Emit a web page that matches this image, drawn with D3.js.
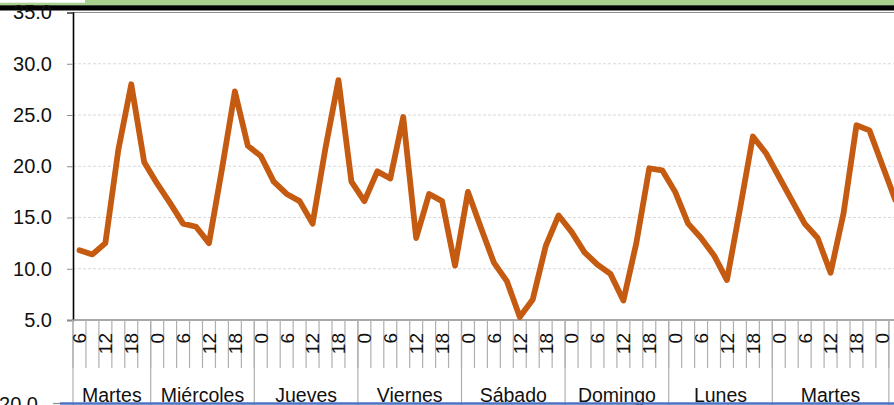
<!DOCTYPE html>
<html>
<head>
<meta charset="utf-8">
<script src="https://cdn.jsdelivr.net/npm/d3@7"></script>
<style>
  body { margin: 0; background: #fff; }
  svg { display: block; font-family: "Liberation Sans", Arial, sans-serif; }
</style>
</head>
<body>
<div id="chart"></div>
<script>
// horas de cada categoría (cada 3 h); la última queda fuera del recorte
const hours = [6, 9, 12, 15, 18, 21,
  0, 3, 6, 9, 12, 15, 18, 21,
  0, 3, 6, 9, 12, 15, 18, 21,
  0, 3, 6, 9, 12, 15, 18, 21,
  0, 3, 6, 9, 12, 15, 18, 21,
  0, 3, 6, 9, 12, 15, 18, 21,
  0, 3, 6, 9, 12, 15, 18, 21,
  0, 3, 6, 9, 12, 15, 18, 21, 0,
  3];
// días y cuántas categorías abarca cada uno
const days = ["Martes", "Miércoles", "Jueves", "Viernes", "Sábado", "Domingo", "Lunes", "Martes"];
const dayCounts = [6, 8, 8, 8, 8, 8, 8, 9];
// valores de la serie
const values = [11.8, 11.4, 12.5, 21.6, 28.0, 20.4,
  18.3, 16.4, 14.4, 14.1, 12.5, 19.7, 27.3, 22.0,
  21.0, 18.5, 17.3, 16.6, 14.4, 21.8, 28.4, 18.5,
  16.6, 19.5, 18.8, 24.8, 13.0, 17.3, 16.6, 10.3,
  17.5, 14.0, 10.6, 8.8, 5.3, 7.0, 12.2, 15.2,
  13.6, 11.6, 10.4, 9.5, 6.9, 12.5, 19.8, 19.6,
  17.5, 14.4, 13.0, 11.3, 8.9, 15.8, 22.9, 21.3,
  19.0, 16.7, 14.4, 13.0, 9.6, 15.4, 24.0, 23.5, 20.1,
  16.7];
const yTicks = [5, 10, 15, 20, 25, 30, 35];

const W = 894, H = 405;
const plotLeft = 73, plotTop = 12.5, plotBottom = 320;
const step = 12.95;

const svg = d3.select("#chart").append("svg")
  .attr("width", W).attr("height", H);

// banda superior (restos del gráfico de arriba)
svg.append("rect").attr("x", 0).attr("y", 0).attr("width", W).attr("height", 5.5).attr("fill", "#a9d18e");
svg.append("rect").attr("x", 0).attr("y", 0).attr("width", 85).attr("height", 2.7).attr("fill", "#fff");
svg.append("rect").attr("x", 0).attr("y", 5.3).attr("width", W).attr("height", 5.2).attr("fill", "#000");

const x = d3.scaleBand()
  .domain(d3.range(hours.length))
  .range([plotLeft, plotLeft + hours.length * step])
  .padding(0);

const y = d3.scaleLinear().domain([5, 35]).range([plotBottom, plotTop]);

// rejilla
svg.append("g")
  .selectAll("line")
  .data(yTicks.filter(d => d > 5 && d < 35))
  .enter().append("line")
  .attr("x1", plotLeft).attr("x2", W)
  .attr("y1", d => y(d)).attr("y2", d => y(d))
  .attr("stroke", "#d9d9d9").attr("stroke-width", 1)
  .attr("stroke-dasharray", "3,2");

svg.append("line")
  .attr("x1", plotLeft).attr("x2", W)
  .attr("y1", y(35)).attr("y2", y(35))
  .attr("stroke", "#8c8c8c").attr("stroke-width", 1.2);

// eje Y
const yAxis = svg.append("g")
  .attr("transform", `translate(${plotLeft},0)`)
  .call(d3.axisLeft(y).tickValues(yTicks).tickFormat(d3.format(".1f")).tickSize(6).tickPadding(15));
yAxis.select(".domain").attr("stroke", "#000").attr("stroke-width", 1.6);
yAxis.selectAll(".tick line").attr("stroke", "#8c8c8c");
yAxis.selectAll("text").attr("font-size", 20).attr("fill", "#111");

// eje X: línea base y separadores
svg.append("line")
  .attr("x1", plotLeft).attr("x2", W)
  .attr("y1", plotBottom).attr("y2", plotBottom)
  .attr("stroke", "#8c8c8c").attr("stroke-width", 1.4);

svg.append("g")
  .selectAll("line")
  .data(d3.range(hours.length + 1))
  .enter().append("line")
  .attr("x1", i => plotLeft + i * x.bandwidth()).attr("x2", i => plotLeft + i * x.bandwidth())
  .attr("y1", plotBottom).attr("y2", 368)
  .attr("stroke", "#b0b0b0").attr("stroke-width", 1.2);

// grupos de días
let acc = 0;
const groups = days.map((d, k) => {
  const g = { name: d, start: acc, end: acc + dayCounts[k] };
  acc += dayCounts[k];
  return g;
});

svg.append("g")
  .selectAll("line")
  .data(groups.map(g => g.start).concat([acc]))
  .enter().append("line")
  .attr("x1", i => plotLeft + i * x.bandwidth()).attr("x2", i => plotLeft + i * x.bandwidth())
  .attr("y1", plotBottom).attr("y2", H)
  .attr("stroke", "#b0b0b0").attr("stroke-width", 1.2);

svg.append("g")
  .selectAll("text")
  .data(groups)
  .enter().append("text")
  .attr("x", g => plotLeft + (g.start + g.end) / 2 * x.bandwidth())
  .attr("y", 401.5)
  .attr("text-anchor", "middle")
  .attr("font-size", 19.5)
  .attr("fill", "#111")
  .text(g => g.name);

// etiquetas de hora (una de cada dos)
const xAxis = svg.append("g")
  .attr("transform", `translate(0,${plotBottom})`)
  .call(d3.axisBottom(x)
    .tickValues(d3.range(0, hours.length, 2))
    .tickFormat(i => hours[i])
    .tickSize(0));
xAxis.select(".domain").remove();
xAxis.selectAll("text")
  .attr("transform", "rotate(-90)")
  .attr("x", -13).attr("y", 0).attr("dy", "0.36em")
  .style("text-anchor", "end")
  .attr("font-size", 19)
  .attr("fill", "#111");

// serie
const line = d3.line()
  .x((d, i) => x(i) + x.bandwidth() / 2)
  .y(d => y(d));

svg.append("path")
  .datum(values)
  .attr("fill", "none")
  .attr("stroke", "#c55a11")
  .attr("stroke-width", 5.8)
  .attr("stroke-linejoin", "round")
  .attr("stroke-linecap", "round")
  .attr("d", line);

// borde del gráfico de abajo
svg.append("text")
  .attr("x", 38).attr("y", 411)
  .attr("text-anchor", "end")
  .attr("font-size", 20).attr("fill", "#111")
  .text("20.0");
svg.append("line")
  .attr("x1", 53).attr("x2", 60).attr("y1", 403.5).attr("y2", 403.5)
  .attr("stroke", "#8c8c8c").attr("stroke-width", 1.2);
svg.append("line")
  .attr("x1", 60).attr("x2", W).attr("y1", 403.5).attr("y2", 403.5)
  .attr("stroke", "#4a72c0").attr("stroke-width", 2.6);
</script>
</body>
</html>
